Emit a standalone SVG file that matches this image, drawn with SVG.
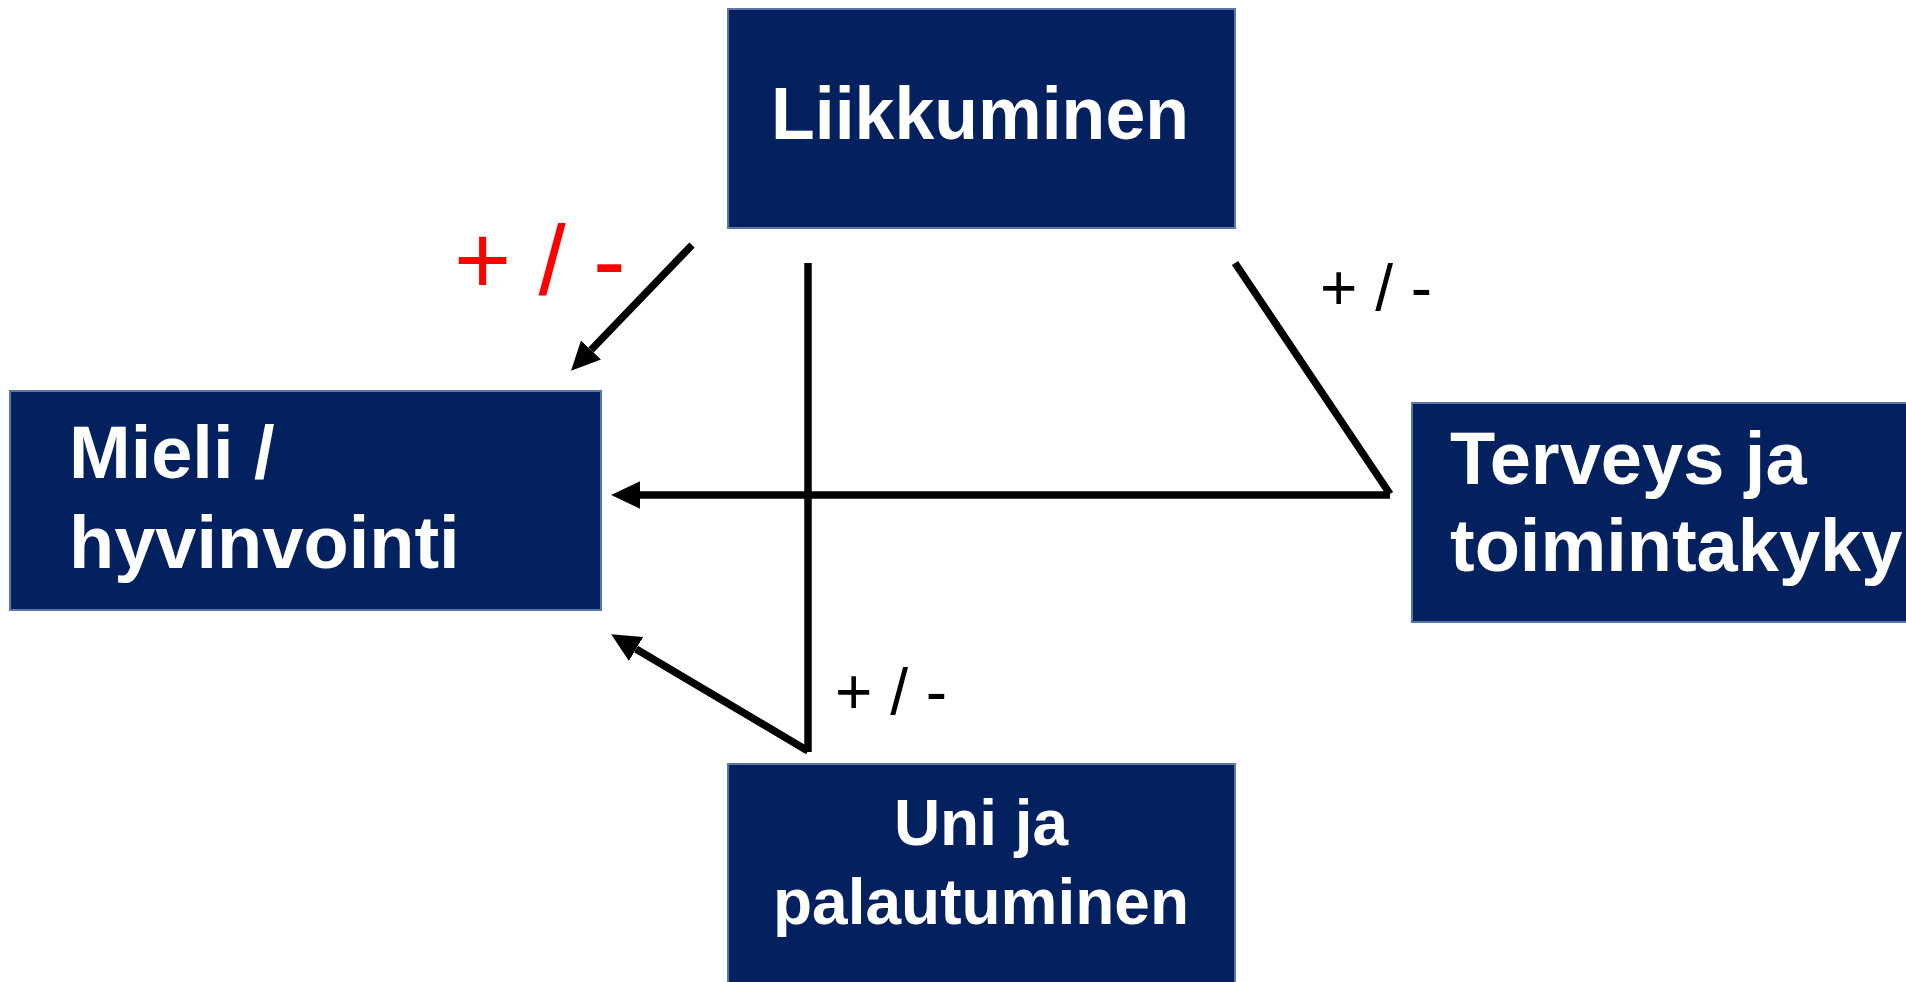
<svg xmlns="http://www.w3.org/2000/svg" width="1906" height="982" viewBox="0 0 1906 982">
  <style>
    .box { fill: #03215f; stroke: #5a77a8; stroke-width: 2; }
    .t { font-family: "Liberation Sans", Arial, sans-serif; font-weight: bold; fill: #ffffff; }
    .big { font-size: 74px; }
    .mid { font-size: 64px; }
    .conn { fill: none; stroke: #000000; stroke-width: 7.5; }
    .lbl { font-family: "Liberation Sans", Arial, sans-serif; font-size: 64px; fill: #000000; }
    .lblred { font-family: "Liberation Sans", Arial, sans-serif; font-size: 98px; fill: #ff0000; }
  </style>
  <defs>
    <marker id="arrow" markerUnits="userSpaceOnUse" markerWidth="30" markerHeight="30" viewBox="0 -13 26 26" refX="0" refY="0" orient="auto">
      <path d="M0,-12 L25,0 L0,12 z" fill="#000000"/>
    </marker>
  </defs>
  <rect width="1906" height="982" fill="#ffffff"/>

  <g id="connectors">
    <path class="conn" d="M692,245 L591,350" marker-end="url(#arrow)"/>
    <path class="conn" d="M808,263 L808,752"/>
    <path class="conn" d="M808,751 L636,649" marker-end="url(#arrow)"/>
    <path class="conn" d="M1235,263 L1390,494"/>
    <path class="conn" d="M1390,495 L640,495" marker-end="url(#arrow)"/>
    <text class="lblred" x="454" y="294">+ / -</text>
    <text class="lbl" x="1320" y="310">+ / -</text>
    <text class="lbl" x="835" y="714">+ / -</text>
  </g>

  <g id="node-liikkuminen">
    <rect class="box" x="728" y="9" width="507" height="219"/>
    <text class="t big" x="980" y="139" text-anchor="middle" textLength="418" lengthAdjust="spacingAndGlyphs">Liikkuminen</text>
  </g>

  <g id="node-mieli">
    <rect class="box" x="10" y="391" width="591" height="219"/>
    <text class="t big" x="69" y="478">Mieli /</text>
    <text class="t big" x="69" y="568">hyvinvointi</text>
  </g>

  <g id="node-terveys">
    <rect class="box" x="1412" y="403" width="500" height="219"/>
    <text class="t big" x="1450" y="484">Terveys ja</text>
    <text class="t big" x="1450" y="571">toimintakyky</text>
  </g>

  <g id="node-uni">
    <rect class="box" x="728" y="764" width="507" height="230"/>
    <text class="t mid" x="981" y="845" text-anchor="middle">Uni ja</text>
    <text class="t mid" x="981" y="924" text-anchor="middle">palautuminen</text>
  </g>
</svg>
